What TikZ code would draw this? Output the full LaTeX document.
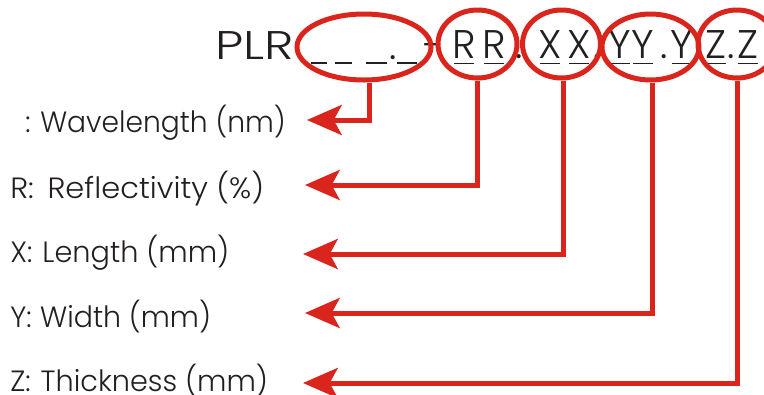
\documentclass[tikz,border=0pt]{standalone}
\usepackage{fontspec}
\setmainfont{Poppins}[UprightFont=* Light]
\usetikzlibrary{arrows.meta,shapes.geometric}
\definecolor{lred}{HTML}{DA251D}
\definecolor{ink}{HTML}{231F20}
\begin{document}
\begin{tikzpicture}[x=0.75pt,y=-0.75pt,
  oval/.style={ellipse, draw=lred, line width=3.75pt, inner sep=0pt},
  conn/.style={draw=lred, line width=3.75pt, line join=miter,
    -{Stealth[length=26pt,width=22.5pt,inset=6pt]}},
  lab/.style={anchor=base west, inner sep=0pt, text=ink, font=\fontsize{22}{26}\selectfont},
  code/.style={anchor=base, inner sep=0pt, text=ink, font=\fontsize{30}{34}\selectfont},
  uline/.style={draw=ink, line width=1.1pt}]
\useasboundingbox (0,0) rectangle (764,394);

% code line
\node[code, anchor=base west] (plr) at (215,59) {\scalebox{1.25}[1]{PLR}};
\draw[uline] (311,63) -- (327,63);
\draw[uline] (335,63) -- (352,63);
\draw[uline] (366,63) -- (387,63);
\node[code] (d0) at (393,59) {.};
\draw[uline] (397,63) -- (417,63);
\node[code] (hy) at (434,59) {-};
\node[code] (r1) at (464,58) {R};
\node[code] (r2) at (494,58) {R};
\node[code] (d1) at (519,58) {.};
\node[code] (x1) at (550,58) {X};
\node[code] (x2) at (579,58) {X};
\node[code] (d2) at (597,58) {.};
\node[code] (y1) at (620,58) {Y};
\node[code] (y2) at (643,58) {Y};
\node[code] (d3) at (664,58) {.};
\node[code] (y3) at (682,58) {Y};
\node[code] (d4) at (697,58) {.};
\node[code] (z1) at (716,58) {Z};
\node[code] (d5) at (731,58) {.};
\node[code] (z2) at (748,58) {Z};
\foreach \u in {464,494,550,579,620,643,682,716,748}
  \draw[uline] (\u-10,63.5) -- (\u+10,63.5);

% labels
\node[lab] (L1) at (25,132) {\scalebox{0.96}[1]{:\hspace{0.35em}Wavelength (nm)}};
\node[lab] (L2) at (10,198) {\scalebox{1.04}[1]{R:\hspace{0.45em}Reflectivity (\%)}};
\node[lab] (L3) at (10,262) {\scalebox{0.98}[1]{X:\hspace{0.35em}Length (mm)}};
\node[lab] (L4) at (10,327) {\scalebox{0.97}[1]{Y:\hspace{0.3em}Width (mm)}};
\node[lab] (L5) at (10,391) {\scalebox{0.98}[1]{Z:\hspace{0.35em}Thickness (mm)}};

% ovals
\node[oval, minimum width=100.5pt, minimum height=49.5pt] (E1) at (364,47) {};
\node[oval, minimum width=59.25pt, minimum height=51pt] (ER) at (477.5,44) {};
\node[oval, minimum width=58.5pt, minimum height=51pt] (EX) at (561.5,44) {};
\node[oval, minimum width=72.75pt, minimum height=49.5pt] (EY) at (650.5,47) {};
\node[oval, minimum width=58.5pt, minimum height=51pt] (EZ) at (737,44) {};

% connectors
\coordinate (k1) at (369,120); \coordinate (t1) at (307,120);
\coordinate (k2) at (477,185); \coordinate (t2) at (305,185);
\coordinate (k3) at (563,254); \coordinate (t3) at (303,254);
\coordinate (k4) at (652,313); \coordinate (t4) at (305,313);
\coordinate (k5) at (737,383); \coordinate (t5) at (303,383);
\draw[conn] (E1.south -| k1) -- (k1) -- (t1);
\draw[conn] (ER.south -| k2) -- (k2) -- (t2);
\draw[conn] (EX.south -| k3) -- (k3) -- (t3);
\draw[conn] (EY.south -| k4) -- (k4) -- (t4);
\draw[conn] (EZ.south -| k5) -- (k5) -- (t5);
\end{tikzpicture}
\end{document}
